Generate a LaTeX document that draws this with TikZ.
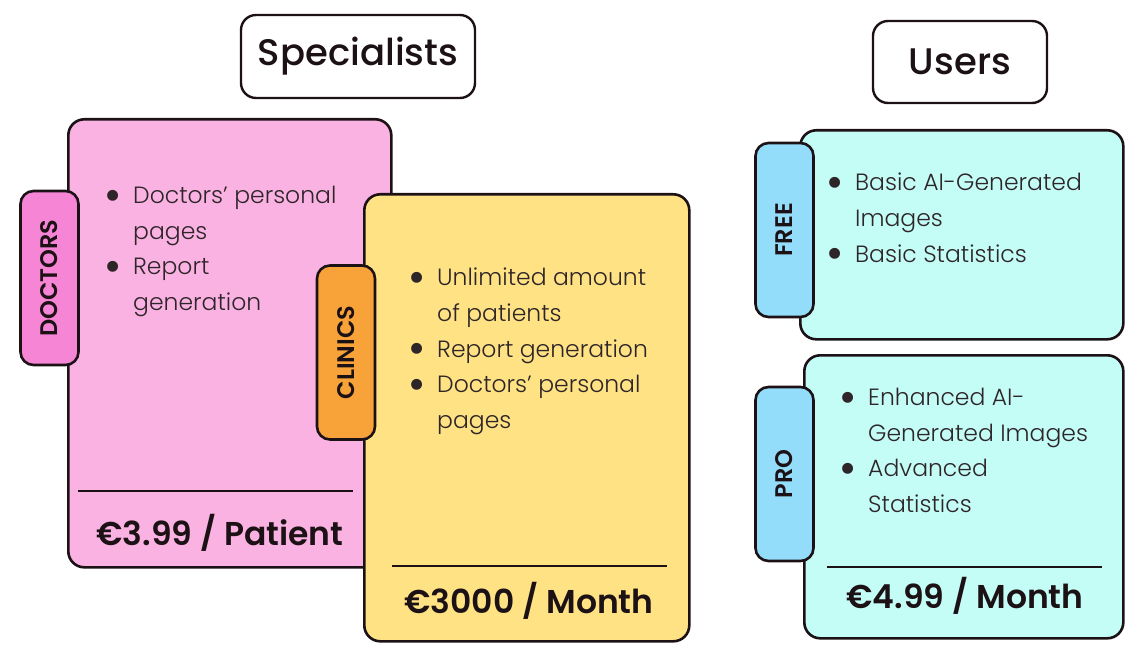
\documentclass[tikz,border=0pt]{standalone}
\usepackage{fontspec}
\setmainfont{Poppins}
\newfontfamily\lightfont{Poppins Light}
\newfontfamily\medfont{Poppins Medium}
\newfontfamily\semifont{Poppins SemiBold}
\usepackage{xcolor}
\usetikzlibrary{positioning}

\definecolor{inkdark}{HTML}{1C1216}
\definecolor{textdark}{HTML}{2E2529}
\definecolor{pinkcard}{HTML}{FAB2E2}
\definecolor{pinktab}{HTML}{F685D5}
\definecolor{yellowcard}{HTML}{FEE283}
\definecolor{orangetab}{HTML}{F8A23A}
\definecolor{cyancard}{HTML}{C4FCF6}
\definecolor{bluetab}{HTML}{93DCFA}

\newcommand{\bul}{\makebox[29pt][l]{\raisebox{-7.5pt}[0pt][0pt]{\scalebox{2}{\textbullet}}}}
\newcommand{\ind}{\hspace*{29pt}}

\tikzset{
  card/.style={draw=inkdark, line width=2.6pt, rounded corners=16pt, anchor=north west, inner sep=0pt},
  tabbox/.style={draw=inkdark, line width=2.6pt, rounded corners=13pt, rotate=90, inner sep=0pt,
    minimum width=174pt, minimum height=58pt, text=inkdark, font=\fontsize{24}{24}\semifont},
  headbox/.style={draw=inkdark, line width=2.4pt, rounded corners=15pt, fill=white, inner sep=0pt,
    font=\fontsize{37}{37}\medfont, text=inkdark},
  featlist/.style={anchor=north west, align=left, inner sep=0pt, text=textdark,
    font=\fontsize{23.5}{35.7}\lightfont},
  price/.style={anchor=base, inner sep=0pt, text=inkdark, font=\fontsize{33}{33}\semifont},
  sepline/.style={draw=inkdark, line width=2.2pt}
}

\begin{document}
\begin{tikzpicture}[x=1pt, y=-1pt]
\useasboundingbox (0,0) rectangle (1140,660);

%%%%% Headers %%%%%
\node[headbox, minimum width=234pt, minimum height=83pt] (spec) at (358,56.5) {Specialists};
\node[headbox, minimum width=174pt, minimum height=82pt] (users) at (960,62) {Users};

%%%%% Doctors %%%%%
\node[card, fill=pinkcard, minimum width=323pt, minimum height=448pt] (doccard) at (67,118) {};
\node[tabbox, fill=pinktab] (doctab) at (49.5,278) {DOCTORS};
\node[featlist] (doclist) at (104,186) {\bul Doctors’ personal\\ \ind pages\\ \bul Report\\ \ind generation};
\draw[sepline] (78,491) -- (353,491);
\node[price] (docprice) at (220,545) {€3.99 / Patient};

%%%%% Clinics %%%%%
\node[card, fill=yellowcard, minimum width=325pt, minimum height=447pt] (clincard) at (363,193) {};
\node[tabbox, fill=orangetab] (clintab) at (346,352.5) {CLINICS};
\node[featlist] (clinlist) at (408,268) {\bul Unlimited amount\\ \ind of patients\\ \bul Report generation\\ \bul Doctors’ personal\\ \ind pages};
\draw[sepline] (392,566) -- (667,566);
\node[price] (clinprice) at (529,613) {€3000 / Month};

%%%%% Free %%%%%
\node[card, fill=cyancard, minimum width=323pt, minimum height=209pt] (freecard) at (799,129) {};
\node[tabbox, fill=bluetab] (freetab) at (784.5,230) {FREE};
\node[featlist] (freelist) at (826,173) {\bul Basic AI-Generated\\ \ind Images\\ \bul Basic Statistics};

%%%%% Pro %%%%%
\node[card, fill=cyancard, minimum width=319pt, minimum height=283pt] (procard) at (803,354) {};
\node[tabbox, fill=bluetab] (protab) at (784.5,474) {PRO};
\node[featlist] (prolist) at (839,388) {\bul Enhanced AI-\\ \ind Generated Images\\ \bul Advanced\\ \ind Statistics};
\draw[sepline] (827,567) -- (1102,567);
\node[price] (proprice) at (965,608) {€4.99 / Month};
\end{tikzpicture}
\end{document}
